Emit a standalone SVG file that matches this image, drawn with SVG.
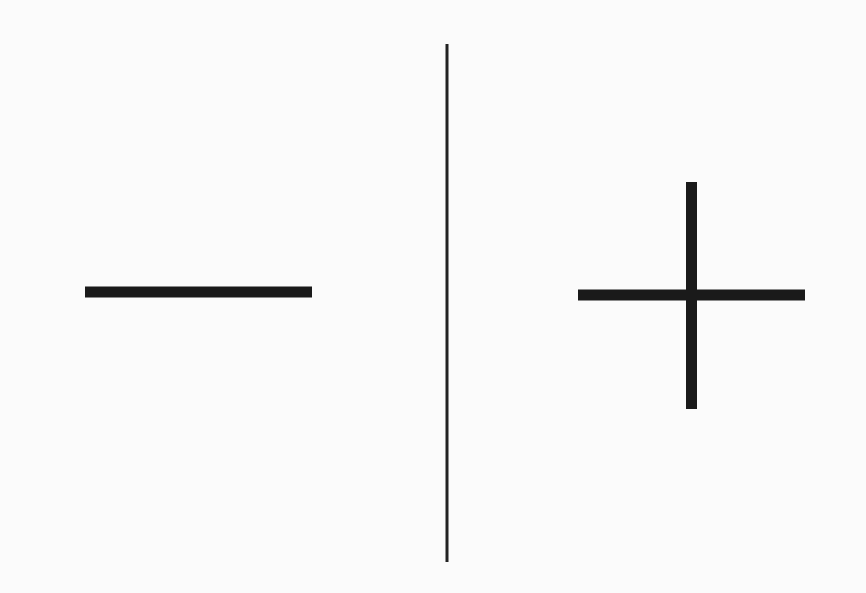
<svg xmlns="http://www.w3.org/2000/svg" width="866" height="593" viewBox="0 0 866 593">
<style>
.bar{fill:#1a1a1a}
.rule{stroke:#222;stroke-width:3;fill:none}
</style>
<rect width="866" height="593" fill="#fbfbfb"/>
<g id="minus">
<rect class="bar" x="85" y="286.5" width="227" height="11"/>
</g>
<g id="divider">
<line class="rule" x1="447" y1="44" x2="447" y2="562"/>
</g>
<g id="plus">
<rect class="bar" x="578" y="289.5" width="227" height="11"/>
<rect class="bar" x="686" y="182" width="11" height="227"/>
</g>
</svg>
